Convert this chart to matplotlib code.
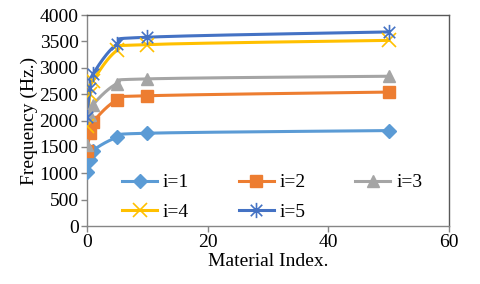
import numpy as np
import matplotlib
matplotlib.use("Agg")
import matplotlib.pyplot as plt
from matplotlib.path import Path

plt.rcParams['font.family'] = ['Liberation Serif', 'DejaVu Serif']

x = [0, 0.5, 1, 5, 10, 50]
i1 = [1030, 1260, 1430, 1680, 1760, 1810]
i2 = [1420, 1760, 1970, 2390, 2470, 2540]
i3 = [1540, 2100, 2300, 2700, 2790, 2840]
i4 = [1900, 2500, 2750, 3330, 3440, 3520]
i5 = [2060, 2620, 2880, 3450, 3580, 3680]
labels = ['i=1', 'i=2', 'i=3', 'i=4', 'i=5']
series = [i1, i2, i3, i4, i5]
colors = ['#5B9BD5', '#ED7D31', '#A5A5A5', '#FFC000', '#4472C4']

star = Path([(0, -1), (0, 1), (-0.75, -0.75), (0.75, 0.75), (-0.75, 0.75), (0.75, -0.75)],
            [Path.MOVETO, Path.LINETO, Path.MOVETO, Path.LINETO, Path.MOVETO, Path.LINETO])
markers = ['D', 's', '^', 'x', star]
msizes = [7, 8, 8, 10, 11]
mews = [1, 1, 1, 1.2, 1.2]

def smooth(xs, ys, sx=1/60, sy=1/4000*0.56, n=40):
    P = np.column_stack([np.array(xs) * sx, np.array(ys) * sy])
    out = []
    m = len(P)
    for k in range(m - 1):
        p0 = P[k - 1] if k > 0 else P[k]
        p1, p2 = P[k], P[k + 1]
        p3 = P[k + 2] if k + 2 < m else P[k + 1]
        c1 = p1 + (p2 - p0) / 6
        c2 = p2 - (p3 - p1) / 6
        t = np.linspace(0, 1, n)[:, None]
        seg = (1 - t) ** 3 * p1 + 3 * (1 - t) ** 2 * t * c1 + 3 * (1 - t) * t ** 2 * c2 + t ** 3 * p2
        out.append(seg)
    pts = np.vstack(out)
    return pts[:, 0] / sx, pts[:, 1] / sy

fig = plt.figure(figsize=(4.8, 2.84), dpi=100)
ax = fig.add_axes([0.181, 0.204, 0.755, 0.743])

handles = []
for ys, c, mk, ms, mw, lb in zip(series, colors, markers, msizes, mews, labels):
    sxv, syv = smooth(x, ys)
    ax.plot(sxv, syv, color=c, lw=2.2, zorder=2)
    ax.plot(x, ys, linestyle='none', marker=mk, color=c, ms=ms, mew=mw, zorder=3)
    h, = ax.plot([], [], color=c, lw=2.2, marker=mk, ms=ms, mew=mw, label=lb)
    handles.append(h)

ax.set_xlim(0, 60)
ax.set_ylim(0, 4000)
ax.set_xticks([0, 20, 40, 60])
ax.set_yticks(np.arange(0, 4001, 500))
for s in ax.spines.values():
    s.set_color('#595959')
    s.set_linewidth(1.0)
ax.spines['left'].set_color('#868686')
ax.spines['bottom'].set_color('#868686')
ax.tick_params(axis='both', colors='#868686', labelcolor='black', labelsize=14, length=4, width=1, pad=2)
ax.set_xlabel('Material Index.', fontsize=14, labelpad=1)
ax.set_ylabel('Frequency (Hz.)', fontsize=14, labelpad=1)

order = [0, 3, 1, 4, 2]
ax.legend([handles[k] for k in order], [labels[k] for k in order],
          loc='lower left', bbox_to_anchor=(0.065, -0.03), ncol=3, frameon=False, fontsize=14,
          handlelength=1.8, columnspacing=2.55, handletextpad=0.3, labelspacing=0.6,
          borderaxespad=0.2)

fig.savefig('out.png', dpi=100)
